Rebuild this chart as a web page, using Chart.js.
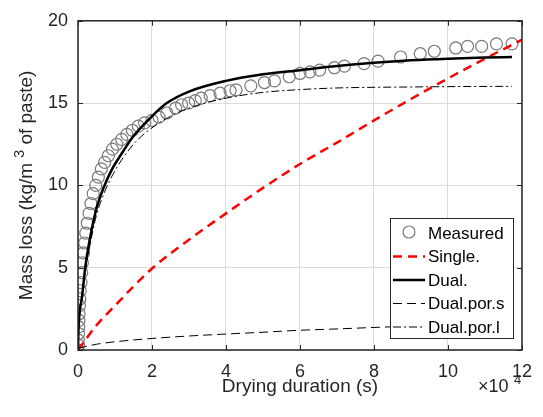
<!DOCTYPE html>
<html>
<head>
<meta charset="utf-8">
<script src="https://cdn.jsdelivr.net/npm/chart.js@4.4.1/dist/chart.umd.min.js"></script>
<style>
  body { margin: 0; background: #fff; }
  canvas { display: block; }
</style>
</head>
<body>
<canvas id="chart" width="543" height="417"></canvas>
<script>
// time values in units of 1e4 s, mass loss in kg/m3 of paste
const measuredX = [0, 0.01, 0.01, 0.015, 0.02, 0.025, 0.03, 0.04, 0.05, 0.06, 0.08, 0.1, 0.12, 0.15, 0.18,
  0.21, 0.25, 0.3, 0.35, 0.41, 0.48, 0.55, 0.63, 0.72, 0.82, 0.93, 1.05, 1.18, 1.32, 1.47, 1.63, 1.8,
  2.0, 2.19, 2.4, 2.64, 2.8, 2.99, 3.17, 3.33, 3.57, 3.84, 4.11, 4.27, 4.67, 5.04, 5.31, 5.71, 6.0,
  6.27, 6.53, 6.93, 7.2, 7.73, 8.11, 8.72, 9.25, 9.63, 10.21, 10.53, 10.91, 11.31, 11.73];
const measuredY = [0, 0.3, 0.6, 1.0, 1.4, 1.8, 2.2, 2.7, 3.1, 3.6, 4.1, 4.7, 5.3, 5.9, 6.5,
  7.1, 7.7, 8.3, 8.9, 9.5, 10.0, 10.5, 11.0, 11.4, 11.8, 12.2, 12.5, 12.8, 13.1, 13.35, 13.6, 13.8,
  13.95, 14.15, 14.4, 14.7, 14.9, 15.0, 15.15, 15.3, 15.45, 15.6, 15.75, 15.8, 16.05, 16.25, 16.35, 16.6, 16.8,
  16.9, 17.0, 17.15, 17.25, 17.4, 17.55, 17.8, 18.0, 18.15, 18.35, 18.45, 18.45, 18.6, 18.6];

const singleX = [0, 0.5, 1, 2, 3, 4, 5, 6, 7, 8, 9, 10, 11, 12];
const singleY = [0, 1.5, 2.7, 4.95, 6.7, 8.3, 9.85, 11.3, 12.6, 13.95, 15.25, 16.5, 17.7, 18.85];

const dualX = [0, 0.01, 0.03, 0.06, 0.1, 0.2, 0.3, 0.5, 0.7, 0.9, 1.2, 1.5, 2.0, 2.4, 3.0, 4.0, 5.0, 6.0, 7.0, 8.0, 9.0, 10.0, 11.0, 11.73];
const dualY = [0, 1.0, 1.9, 2.6, 3.1, 5.1, 6.5, 8.6, 9.9, 10.9, 12.0, 13.0, 14.2, 15.0, 15.7, 16.35, 16.75, 17.0, 17.25, 17.45, 17.6, 17.7, 17.77, 17.8];

const porSX = [0, 0.5, 1, 2, 3, 4, 5, 6, 7, 8, 9, 10, 11, 11.73];
const porSY = [0.1, 0.35, 0.5, 0.7, 0.85, 0.97, 1.08, 1.2, 1.28, 1.37, 1.45, 1.53, 1.6, 1.65];

const porLX = [0, 0.01, 0.03, 0.06, 0.1, 0.2, 0.3, 0.5, 0.7, 1.0, 1.5, 2.0, 2.5, 3.0, 4.0, 5.0, 6.0, 7.0, 8.0, 9.0, 10.0, 11.73];
const porLY = [0, 0.9, 1.8, 2.5, 3.0, 4.8, 6.1, 8.2, 9.5, 10.9, 12.5, 13.5, 14.2, 14.7, 15.3, 15.65, 15.82, 15.92, 15.96, 15.98, 16.0, 16.02];

const seriesLabels = ["Measured", "Single.", "Dual.", "Dual.por.s", "Dual.por.l"];
const xTicks = [0, 2, 4, 6, 8, 10, 12];
const yTicks = [0, 5, 10, 15, 20];

const FONT = "'Liberation Sans', Arial, Helvetica, sans-serif";
const INK = "#262626";

const toPoints = (xs, ys) => xs.map((x, i) => ({ x, y: ys[i] }));

const lineStyle = (label, xs, ys, color, width, dash, order) => ({
  label,
  data: toPoints(xs, ys),
  showLine: true,
  borderColor: color,
  borderWidth: width,
  borderDash: dash,
  pointRadius: 0,
  cubicInterpolationMode: "monotone",
  fill: false,
  order,
});

const datasets = [
  {
    label: seriesLabels[0],
    data: toPoints(measuredX, measuredY),
    showLine: false,
    pointStyle: "circle",
    pointRadius: 6,
    pointBorderWidth: 1.2,
    pointBorderColor: "#7a7a7a",
    pointBackgroundColor: "rgba(0,0,0,0)",
    order: 10,
  },
  lineStyle(seriesLabels[1], singleX, singleY, "#ff0000", 2.5, [9, 6], 4),
  lineStyle(seriesLabels[2], dualX, dualY, "#000000", 2.5, [], 1),
  lineStyle(seriesLabels[3], porSX, porSY, "#000000", 1, [9, 5], 3),
  lineStyle(seriesLabels[4], porLX, porLY, "#000000", 1, [8, 3, 2, 3], 2),
];

// box, inside ticks, axis titles and legend drawn MATLAB style
const decorations = {
  id: "decorations",
  afterDraw(chart) {
    const { ctx, chartArea: a, scales } = chart;
    const xs = scales.x;
    const ys = scales.y;
    ctx.save();

    // inner tick marks
    ctx.strokeStyle = INK;
    ctx.lineWidth = 1;
    ctx.beginPath();
    xTicks.forEach((t) => {
      const px = Math.round(xs.getPixelForValue(t)) + 0.5;
      ctx.moveTo(px, a.bottom);
      ctx.lineTo(px, a.bottom - 5);
      ctx.moveTo(px, a.top);
      ctx.lineTo(px, a.top + 5);
    });
    yTicks.forEach((t) => {
      const py = Math.round(ys.getPixelForValue(t)) + 0.5;
      ctx.moveTo(a.left, py);
      ctx.lineTo(a.left + 5, py);
      ctx.moveTo(a.right, py);
      ctx.lineTo(a.right - 5, py);
    });
    ctx.stroke();

    // axes box
    ctx.lineWidth = 1.5;
    ctx.strokeRect(a.left, a.top, a.right - a.left, a.bottom - a.top);

    // x title
    ctx.fillStyle = INK;
    ctx.font = `19px ${FONT}`;
    ctx.textAlign = "center";
    ctx.textBaseline = "alphabetic";
    ctx.fillText("Drying duration (s)", (a.left + a.right) / 2, 392);

    // x exponent
    ctx.textAlign = "left";
    ctx.font = `18px ${FONT}`;
    ctx.fillText("\u00d710", 478, 392);
    ctx.font = `13px ${FONT}`;
    ctx.fillText("4", 514, 384);

    // y title with superscript
    ctx.save();
    ctx.translate(32, (a.top + a.bottom) / 2);
    ctx.rotate(-Math.PI / 2);
    const p1 = "Mass loss (kg/m ";
    const p2 = "3";
    const p3 = " of paste)";
    ctx.font = `19px ${FONT}`;
    const w1 = ctx.measureText(p1).width;
    const w3 = ctx.measureText(p3).width;
    ctx.font = `14px ${FONT}`;
    const w2 = ctx.measureText(p2).width;
    let x0 = -(w1 + w2 + w3) / 2;
    ctx.textAlign = "left";
    ctx.font = `19px ${FONT}`;
    ctx.fillText(p1, x0, 0);
    ctx.font = `14px ${FONT}`;
    ctx.fillText(p2, x0 + w1, -8);
    ctx.font = `19px ${FONT}`;
    ctx.fillText(p3, x0 + w1 + w2, 0);
    ctx.restore();

    // legend
    const lx = 390, ly = 218, lw = 123, lh = 120;
    ctx.fillStyle = "#ffffff";
    ctx.fillRect(lx, ly, lw, lh);
    ctx.strokeStyle = INK;
    ctx.lineWidth = 1;
    ctx.strokeRect(lx + 0.5, ly + 0.5, lw, lh);
    ctx.font = `17px ${FONT}`;
    ctx.textBaseline = "middle";
    chart.data.datasets.forEach((ds, i) => {
      const cy = ly + 15 + i * 23.5;
      if (ds.showLine) {
        ctx.save();
        ctx.strokeStyle = ds.borderColor;
        ctx.lineWidth = ds.borderWidth;
        ctx.setLineDash(ds.borderDash);
        ctx.beginPath();
        ctx.moveTo(lx + 3, cy);
        ctx.lineTo(lx + 35, cy);
        ctx.stroke();
        ctx.restore();
      } else {
        ctx.strokeStyle = ds.pointBorderColor;
        ctx.lineWidth = ds.pointBorderWidth;
        ctx.beginPath();
        ctx.arc(lx + 19, cy - 1, 6, 0, Math.PI * 2);
        ctx.stroke();
      }
      ctx.fillStyle = "#000";
      ctx.fillText(ds.label, lx + 38, cy + 1);
    });

    ctx.restore();
  },
};

new Chart(document.getElementById("chart"), {
  type: "scatter",
  data: { datasets },
  plugins: [decorations],
  options: {
    responsive: false,
    animation: false,
    devicePixelRatio: 1,
    layout: { padding: { top: 15, right: 16, left: 0, bottom: 0 } },
    plugins: { legend: { display: false }, tooltip: { enabled: false } },
    scales: {
      x: {
        type: "linear",
        min: 0,
        max: 12,
        afterFit: (s) => { s.height = 67; },
        afterBuildTicks: (s) => { s.ticks = xTicks.map((v) => ({ value: v })); },
        grid: { color: "#dcdcdc", lineWidth: 1, drawTicks: false },
        border: { display: false },
        ticks: { padding: 11, color: INK, font: { size: 18, family: FONT }, maxRotation: 0 },
      },
      y: {
        type: "linear",
        min: 0,
        max: 20,
        afterFit: (s) => { s.width = 78; },
        afterBuildTicks: (s) => { s.ticks = yTicks.map((v) => ({ value: v })); },
        grid: { color: "#dcdcdc", lineWidth: 1, drawTicks: false },
        border: { display: false },
        ticks: { padding: 10, color: INK, font: { size: 18, family: FONT } },
      },
    },
  },
});
</script>
</body>
</html>
